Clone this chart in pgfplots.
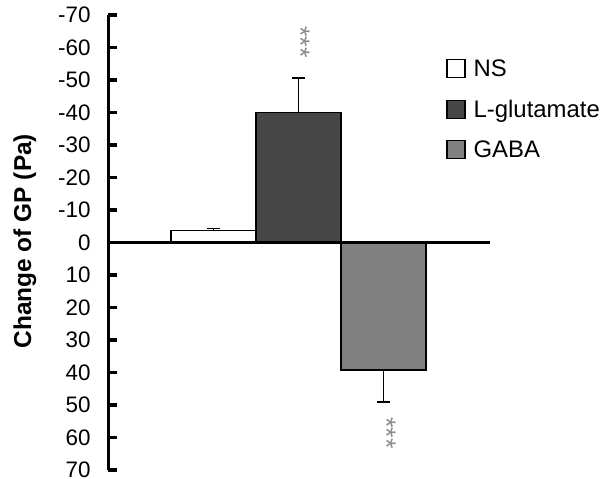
\documentclass[border=0pt]{standalone}
\usepackage{fontspec}
\setmainfont{Liberation Sans}
\usepackage{pgfplots}
\pgfplotsset{compat=1.18}
\definecolor{darkbar}{HTML}{474747}
\definecolor{midbar}{HTML}{808080}
\definecolor{stargray}{HTML}{8A8A8A}
\begin{document}
\begin{tikzpicture}
\useasboundingbox (-108.5bp,-9bp) rectangle (496.5bp,470bp);
\begin{axis}[
  scale only axis, width=381.5bp, height=455bp,
  xmin=-0.235, xmax=4.253,
  ymin=-70, ymax=70, y dir=reverse,
  axis y line*=left, axis x line=none,
  y axis line style={line width=3.5bp},
  ytick={-70,-60,-50,-40,-30,-20,-10,0,10,20,30,40,50,60,70},
  yticklabels={-70,-60,-50,-40,-30,-20,-10,0,10,20,30,40,50,60,70},
  tick align=inside, major tick length=9bp,
  tick style={line width=3.5bp, black},
  yticklabel style={font=\fontsize{22.5}{26}\selectfont, xshift=-14.5bp},
  ylabel={\bfseries Change of GP (Pa)},
  ylabel style={at={(axis description cs:-0.219,0.503)}, anchor=center, font=\fontsize{24.5}{28}\selectfont},
  clip=false,
  legend style={at={(axis description cs:0.885,0.927)}, anchor=north west, draw=none, fill=none,
     inner sep=0pt, row sep=0bp, font=\fontsize{24}{28}\selectfont,
     nodes={inner sep=0bp, minimum height=40.5bp}, column sep=8bp},
  legend cell align=left,
  legend image code/.code={\draw[#1, line width=1.3bp] (0bp,-9bp) rectangle (18bp,9bp);},
]
\addplot[ybar, bar shift=0pt, bar width=85bp, fill=white, draw=black, line width=1.3bp,
  error bars/.cd, y dir=minus, y explicit,
  error bar style={line width=1.5bp, black},
  error mark options={rotate=90, mark size=6.5bp, line width=1.5bp, black}]
  coordinates {(1,-3.7) -= (0,0.6)};
\addlegendentry{NS}
\addplot[ybar, bar shift=0pt, bar width=85bp, fill=darkbar, draw=black, line width=1.3bp,
  error bars/.cd, y dir=minus, y explicit,
  error bar style={line width=1.5bp, black},
  error mark options={rotate=90, mark size=6.5bp, line width=1.5bp, black}]
  coordinates {(2,-40.1) -= (0,10.5)};
\addlegendentry{L-glutamate}
\addplot[ybar, bar shift=0pt, bar width=85bp, fill=midbar, draw=black, line width=1.3bp,
  error bars/.cd, y dir=plus, y explicit,
  error bar style={line width=1.5bp, black},
  error mark options={rotate=90, mark size=6.5bp, line width=1.5bp, black}]
  coordinates {(3,39.2) += (0,9.9)};
\addlegendentry{GABA}
\addplot[line width=3bp, black, forget plot] coordinates {(-0.235,0) (4.253,0)};
\node[rotate=-90, text=stargray, font=\fontsize{27}{27}\selectfont, inner sep=0pt] at (axis cs:2.03,-61.7) {***};
\node[rotate=-90, text=stargray, font=\fontsize{27}{27}\selectfont, inner sep=0pt] at (axis cs:3.04,58.6) {***};
\end{axis}
\end{tikzpicture}
\end{document}
